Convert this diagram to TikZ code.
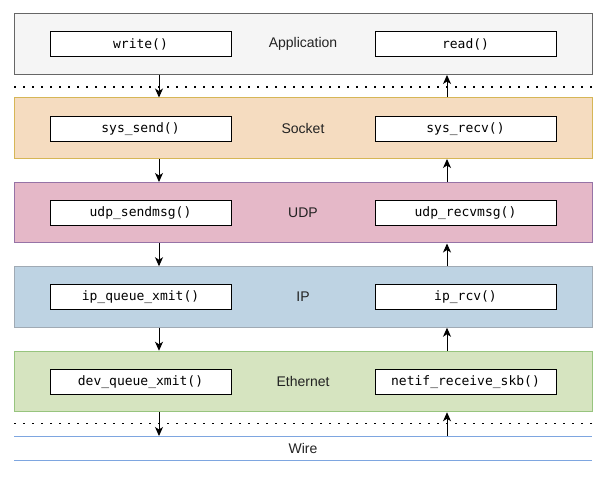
\documentclass[tikz,border=0pt]{standalone}
\usepackage{fontspec}
\setmainfont{Liberation Sans}
\setmonofont{DejaVu Sans Mono}
\usetikzlibrary{arrows.meta,positioning}

\definecolor{appfill}{HTML}{F5F5F5}
\definecolor{appline}{HTML}{666666}
\definecolor{sockfill}{HTML}{F5DCC0}
\definecolor{sockline}{HTML}{D6B656}
\definecolor{udpfill}{HTML}{E5B8C8}
\definecolor{udpline}{HTML}{9673A6}
\definecolor{ipfill}{HTML}{BED3E3}
\definecolor{ipline}{HTML}{A0AAB4}
\definecolor{ethfill}{HTML}{D6E4C0}
\definecolor{ethline}{HTML}{97C47E}
\definecolor{wireline}{HTML}{7EA6E0}
\definecolor{labeltext}{HTML}{222222}

\tikzset{
  layer/.style={draw, line width=1pt, minimum width=578pt, minimum height=60.5pt,
    inner sep=0pt, text=labeltext, font=\fontsize{14}{16}\selectfont},
  func/.style={draw=black, fill=white, line width=1pt, minimum width=181pt,
    minimum height=25pt, inner sep=0pt, font=\ttfamily\fontsize{13}{15}\selectfont},
  arr/.style={line width=1pt, -{Stealth[length=9pt,width=8pt,inset=2.5pt]}},
  dots/.style={line width=1.6pt, dash pattern=on 1.6pt off 7.4pt},
  wire/.style={draw=wireline, line width=1pt}
}

\begin{document}
\begin{tikzpicture}[x=1pt,y=-1pt]
\useasboundingbox (0,0) rectangle (608,478);

% layers
\node[layer, fill=appfill, draw=appline] (app) at (303,44.25) {Application};
\node[layer, fill=sockfill, draw=sockline] (sock) at (303,128.25) {Socket};
\node[layer, fill=udpfill, draw=udpline] (udp) at (303,212.75) {UDP};
\node[layer, fill=ipfill, draw=ipline] (ip) at (303,297) {IP};
\node[layer, fill=ethfill, draw=ethline] (eth) at (303,381.5) {Ethernet};

% send side
\node[func] (write) at (140.5,44.5) {write()};
\node[func] (send) at (140.5,128.75) {sys\_send()};
\node[func] (udpsend) at (140.5,213) {udp\_sendmsg()};
\node[func] (ipsend) at (140.5,297.5) {ip\_queue\_xmit()};
\node[func] (devsend) at (140.5,382) {dev\_queue\_xmit()};

% receive side
\node[func] (read) at (465.5,44.5) {read()};
\node[func] (recv) at (465.5,128.75) {sys\_recv()};
\node[func] (udprecv) at (465.5,213) {udp\_recvmsg()};
\node[func] (iprecv) at (465.5,297.5) {ip\_rcv()};
\node[func] (netif) at (465.5,382) {netif\_receive\_skb()};

% user/kernel and driver boundaries
\coordinate (kl) at (14,87);
\coordinate (kr) at (592,87);
\coordinate (dl) at (14,423.5);
\coordinate (dr) at (592,423.5);
\draw[dots] (kl) -- (kr);
\draw[dots] (dl) -- (dr);

% wire
\coordinate (wl) at (14,436);
\coordinate (wr) at (592,436);
\coordinate (vl) at (14,460);
\coordinate (vr) at (592,460);
\draw[wire] (wl) -- (wr);
\draw[wire] (vl) -- (vr);
\node[text=labeltext, font=\fontsize{14}{16}\selectfont] (wire) at (303,448) {Wire};

% arrows
\coordinate (tx) at (159,0);
\coordinate (rx) at (447,0);
\draw[arr] (app.south -| tx) -- (sock.north -| tx);
\draw[arr] (sock.south -| tx) -- (udp.north -| tx);
\draw[arr] (udp.south -| tx) -- (ip.north -| tx);
\draw[arr] (ip.south -| tx) -- (eth.north -| tx);
\draw[arr] (eth.south -| tx) -- (wl -| tx);
\draw[arr] (wl -| rx) -- (eth.south -| rx);
\draw[arr] (eth.north -| rx) -- (ip.south -| rx);
\draw[arr] (ip.north -| rx) -- (udp.south -| rx);
\draw[arr] (udp.north -| rx) -- (sock.south -| rx);
\draw[arr] (sock.north -| rx) -- (app.south -| rx);

\end{tikzpicture}
\end{document}
